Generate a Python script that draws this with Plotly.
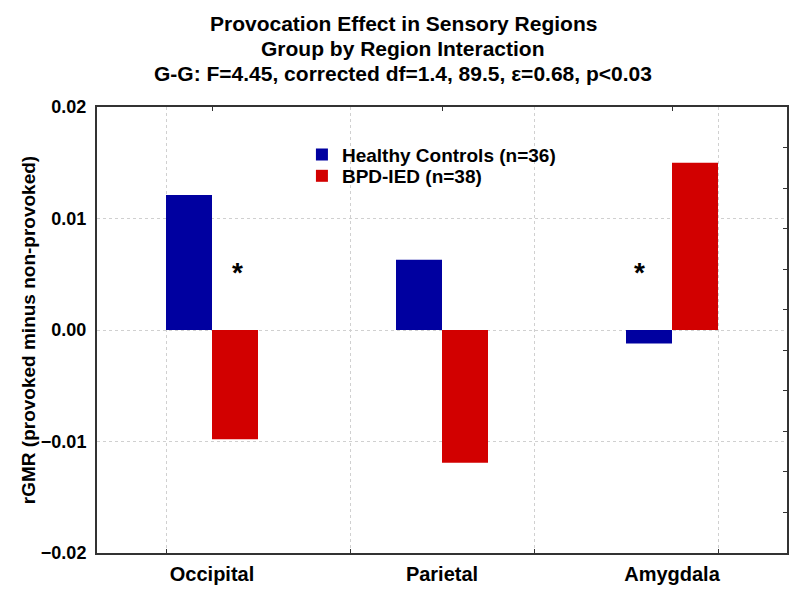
import plotly.graph_objects as go

# ---- data ----
regions = ["Occipital", "Parietal", "Amygdala"]
healthy_controls = [0.0121, 0.0063, -0.0012]
bpd_ied = [-0.0098, -0.0119, 0.0150]
series_names = ["Healthy Controls (n=36)", "BPD-IED (n=38)"]
title_lines = [
    "Provocation Effect in Sensory Regions",
    "Group by Region Interaction",
    "G-G: F=4.45, corrected df=1.4, 89.5, \u03b5=0.68, p<0.03",
]
y_label = "rGMR (provoked minus non-provoked)"
y_ticks = [-0.02, -0.01, 0.0, 0.01, 0.02]
star_x = [0.11, 1.86]          # category-index positions of significance stars
star_y = [0.0052, 0.0052]

FONT = "Liberation Sans, Arial, Helvetica, sans-serif"
BLUE = "#0000A0"
RED = "#D20000"
GRID = "#D0D0D0"

fig = go.Figure()
fig.add_trace(go.Bar(x=regions, y=healthy_controls, name=series_names[0],
                     marker=dict(color=BLUE, line=dict(width=0)), legend="legend"))
fig.add_trace(go.Bar(x=regions, y=bpd_ied, name=series_names[1],
                     marker=dict(color=RED, line=dict(width=0)), legend="legend2"))
# helper traces so the secondary (tick/grid) axes are drawn
fig.add_trace(go.Scatter(x=[None], y=[None], xaxis="x2", yaxis="y",
                         showlegend=False, hoverinfo="skip"))
fig.add_trace(go.Scatter(x=[None], y=[None], xaxis="x3", yaxis="y2",
                         showlegend=False, hoverinfo="skip"))

annotations = []
title_y = [1.188, 1.132, 1.076]
for t, yy in zip(title_lines, title_y):
    annotations.append(dict(text="<b>%s</b>" % t, x=0.4435, y=yy, xref="paper", yref="paper",
                            xanchor="center", yanchor="middle", showarrow=False,
                            font=dict(family=FONT, size=21, color="black")))
for sx, sy in zip(star_x, star_y):
    annotations.append(dict(text="<b>*</b>", x=sx, y=sy, xref="x3", yref="y",
                            xanchor="center", yanchor="middle", showarrow=False,
                            font=dict(family=FONT, size=28, color="black")))

legend_font = dict(family=FONT, size=19, color="black", weight="bold")
fig.update_layout(
    width=792, height=592,
    margin=dict(l=89, r=13, t=99, b=47, autoexpand=False),
    paper_bgcolor="white", plot_bgcolor="white",
    barmode="group", bargap=0.6, bargroupgap=0,
    font=dict(family=FONT, color="black"),
    showlegend=True,
    legend=dict(x=0.297, y=0.936, xanchor="left", yanchor="top",
                bgcolor="rgba(0,0,0,0)", borderwidth=0, font=legend_font, itemwidth=30),
    legend2=dict(x=0.297, y=0.888, xanchor="left", yanchor="top",
                 bgcolor="rgba(0,0,0,0)", borderwidth=0, font=legend_font, itemwidth=30),
    xaxis=dict(type="category", range=[-0.5, 2.5], showgrid=False, zeroline=False,
               showline=True, linecolor="#333333", linewidth=2, mirror=True,
               ticks="", tickfont=dict(family=FONT, size=20, color="black", weight="bold"),
               ticklabelstandoff=2, automargin=False),
    xaxis2=dict(overlaying="x", side="top", range=[-0.5, 2.5],
                tickvals=[0, 1, 2], showticklabels=False, ticks="inside",
                ticklen=4, tickcolor="#333333", showgrid=False, zeroline=False,
                showline=False, automargin=False),
    xaxis3=dict(overlaying="x", side="bottom", range=[-0.5, 2.5],
                tick0=-0.2, dtick=0.8, showticklabels=False, ticks="inside",
                ticklen=4, tickcolor="#333333", showgrid=True, gridcolor=GRID,
                griddash="dot", gridwidth=1, zeroline=False, showline=False,
                automargin=False, layer="below traces"),
    yaxis=dict(range=[-0.02, 0.02], tickvals=y_ticks, tickformat=".2f",
               showgrid=True, gridcolor=GRID, griddash="dot", gridwidth=1,
               zeroline=False, showline=True, linecolor="#333333", linewidth=2,
               mirror=True, ticks="",
               tickfont=dict(family=FONT, size=18, color="black", weight="bold"),
               ticklabelstandoff=5,
               title=dict(text=y_label, standoff=0,
                          font=dict(family=FONT, size=19, color="black", weight="bold")),
               automargin=False),
    yaxis2=dict(overlaying="y", side="right", range=[0, 11], dtick=1,
                showticklabels=False, ticks="inside", ticklen=4, tickcolor="#333333",
                showgrid=False, zeroline=False, showline=False, automargin=False),
    annotations=annotations,
)

fig.write_html("out.html")
